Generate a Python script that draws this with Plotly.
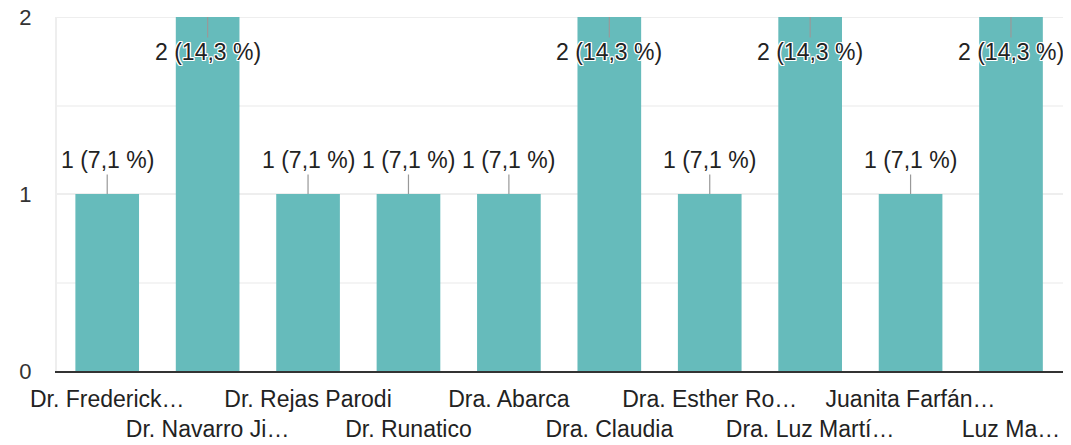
import plotly.graph_objects as go

categories = ["Dr. Frederick…", "Dr. Navarro Ji…", "Dr. Rejas Parodi", "Dr. Runatico",
              "Dra. Abarca", "Dra. Claudia", "Dra. Esther Ro…", "Dra. Luz Martí…",
              "Juanita Farfán…", "Luz Ma…"]
values = [1, 2, 1, 1, 1, 2, 1, 2, 1, 2]
labels = ["1 (7,1 %)", "2 (14,3 %)", "1 (7,1 %)", "1 (7,1 %)", "1 (7,1 %)",
          "2 (14,3 %)", "1 (7,1 %)", "2 (14,3 %)", "1 (7,1 %)", "2 (14,3 %)"]
y_ticks = [0, 1, 2]

FONT = "Arial, Liberation Sans, sans-serif"
BAR = "#66bbbb"

ticktext = [c if i % 2 == 0 else "<br>" + c for i, c in enumerate(categories)]

fig = go.Figure(go.Bar(x=categories, y=values, marker=dict(color=BAR, line=dict(width=0)),
                       hoverinfo="skip"))

halo = "1px 1px 0 #fff, -1px -1px 0 #fff, 1px -1px 0 #fff, -1px 1px 0 #fff, 0 1px 0 #fff, 0 -1px 0 #fff, 1px 0 0 #fff, -1px 0 0 #fff"
for c, v, t in zip(categories, values, labels):
    fig.add_annotation(x=c, y=v, text=t, showarrow=True, arrowhead=0, arrowwidth=1.2,
                       arrowcolor="#999999", ax=0, ay=(35 if v == max(values) else -34),
                       font=dict(family=FONT, size=23, color="#222222", shadow=halo))

# light frame line along the top of the plot area
fig.add_shape(type="line", xref="paper", yref="y", x0=0, x1=1, y0=max(y_ticks), y1=max(y_ticks),
              line=dict(color="#eeeeee", width=2), layer="below")

# page body has an 8px margin, so the figure is sized/placed to compensate
fig.update_layout(
    width=1063, height=437,
    margin=dict(l=49, r=5, t=9, b=74, autoexpand=False),
    paper_bgcolor="white", plot_bgcolor="white",
    bargap=0.366, showlegend=False,
    font=dict(family=FONT),
)
fig.update_xaxes(
    tickvals=categories, ticktext=ticktext, tickangle=0, automargin=False,
    tickfont=dict(family=FONT, size=23, color="#222222"),
    showline=True, linecolor="#333333", linewidth=2,
    showgrid=False, ticks="", ticklabelstandoff=6,
)
fig.update_yaxes(
    range=[0, 2], tickvals=y_ticks, automargin=False, ticklabeloverflow="allow",
    tickfont=dict(family=FONT, size=22, color="#333333"),
    showgrid=True, gridcolor="#eeeeee", gridwidth=2,
    minor=dict(dtick=0.5, showgrid=True, gridcolor="#f4f4f4", gridwidth=2, tick0=0),
    zeroline=False, showline=True, mirror=True, linecolor="#eeeeee", linewidth=2,
    ticks="", ticklabelstandoff=19,
)

fig.write_html("out.html")
